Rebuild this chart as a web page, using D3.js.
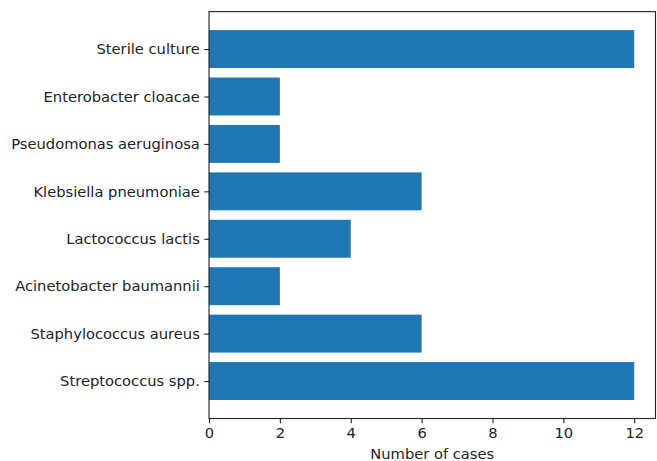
<!DOCTYPE html>
<html>
<head>
<meta charset="utf-8">
<script src="https://cdn.jsdelivr.net/npm/d3@7"></script>
<style>
  body { margin: 0; background: #fff; }
  svg text { font-family: "DejaVu Sans", sans-serif; fill: #222; }
</style>
</head>
<body>
<svg class="main-graphic"></svg>
<script>
// organisms, bottom to top as drawn
var organisms = ["Streptococcus spp.", "Staphylococcus aureus", "Acinetobacter baumannii",
                 "Lactococcus lactis", "Klebsiella pneumoniae", "Pseudomonas aeruginosa",
                 "Enterobacter cloacae", "Sterile culture"];
var cases = [12, 6, 2, 4, 6, 2, 2, 12];
var xTicks = [0, 2, 4, 6, 8, 10, 12];

var margin = {top: 11.6, right: 1.5, bottom: 42.5, left: 209},
    width = 657 - margin.left - margin.right,
    height = 461 - margin.top - margin.bottom;

var svg = d3.select(".main-graphic")
    .attr("width", 657)
    .attr("height", 461);

var g = svg.append("g")
    .attr("transform", "translate(" + margin.left + "," + margin.top + ")");

var x = d3.scaleLinear().domain([0, 12.6]).range([0, width]);
var y = d3.scaleLinear().domain([-0.79, 7.79]).range([height, 0]);
var barH = y(0) - y(0.8);

g.selectAll(".bar")
    .data(cases)
  .enter().append("rect")
    .attr("class", "bar")
    .attr("x", x(0))
    .attr("y", function(d, i) { return y(i + 0.4); })
    .attr("width", function(d) { return x(d) - x(0); })
    .attr("height", barH)
    .attr("fill", "#1f77b4");

var xAxis = g.append("g")
    .attr("transform", "translate(0," + height + ")")
    .call(d3.axisBottom(x).tickValues(xTicks).tickFormat(d3.format("d")).tickSizeOuter(0).tickSize(4.7).tickPadding(4.5));

var yAxis = g.append("g")
    .call(d3.axisLeft(y).tickValues(d3.range(organisms.length))
      .tickFormat(function(i) { return organisms[i]; }).tickSizeOuter(0).tickSize(4.7).tickPadding(4.5));

[xAxis, yAxis].forEach(function(a) {
  a.select(".domain").remove();
  a.selectAll("line").attr("stroke", "#222").attr("stroke-width", 1.1);
  a.selectAll("text").attr("font-size", "14.7px").attr("fill", "#222");
});

// frame
g.append("rect")
    .attr("width", width)
    .attr("height", height)
    .attr("fill", "none")
    .attr("stroke", "#222")
    .attr("stroke-width", 1.1);

g.append("text")
    .attr("x", width / 2)
    .attr("y", height + 41)
    .attr("text-anchor", "middle")
    .attr("font-size", "14.7px")
    .text("Number of cases");
</script>
</body>
</html>
